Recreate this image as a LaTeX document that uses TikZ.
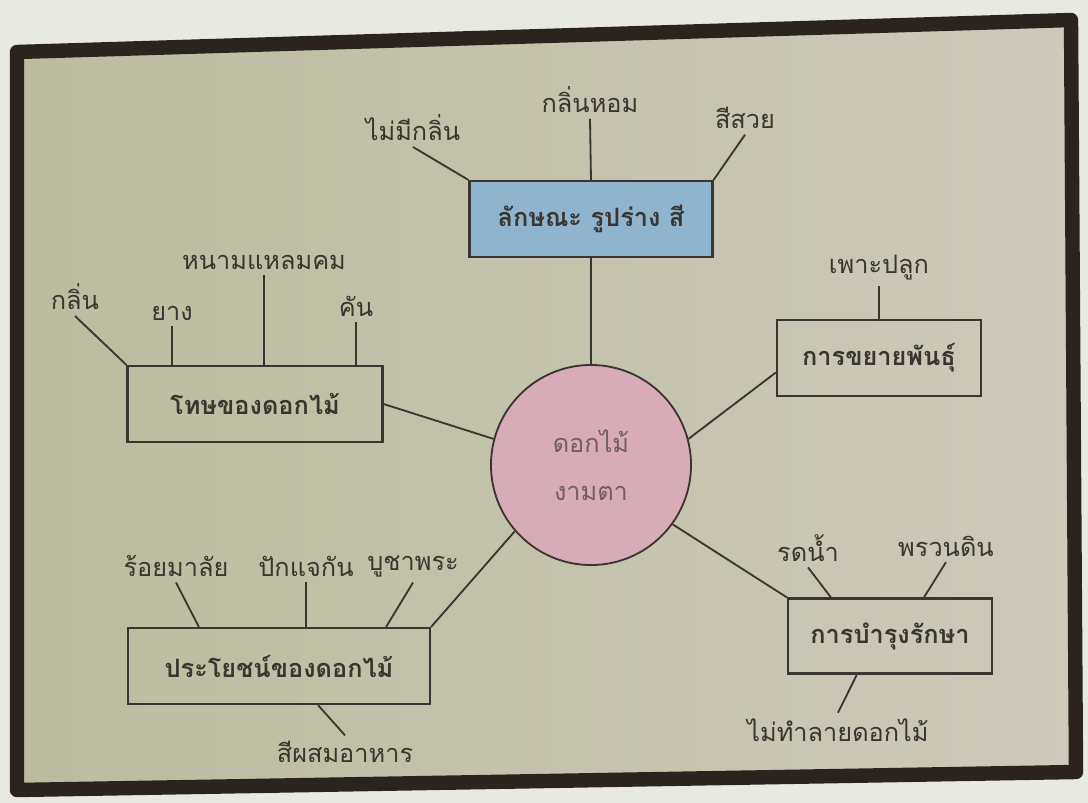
\documentclass[tikz,border=0pt]{standalone}
\usepackage{fontspec}
\newfontfamily\thaifont[Script=Thai]{Loma}
\usepackage{xcolor}
\usetikzlibrary{calc, positioning}

\definecolor{outside}{HTML}{E9E9E4}
\definecolor{frameink}{HTML}{2B231D}
\definecolor{paperL}{HTML}{BBBC9F}
\definecolor{paperR}{HTML}{CDC9BB}
\definecolor{ink}{HTML}{3A3530}
\definecolor{boxblue}{HTML}{8FB4CD}
\definecolor{petal}{HTML}{D8ABB8}

\begin{document}
\begin{tikzpicture}[x=0.025cm, y=-0.025cm,
    box/.style={draw=ink, line width=1.5pt, minimum height=1.9cm, text=ink,
        font=\thaifont\bfseries\fontsize{18}{20}\selectfont},
    leaf/.style={text=ink, inner sep=4pt,
        font=\thaifont\fontsize{18}{20}\selectfont},
    link/.style={draw=ink, line width=1.3pt}]
    % พื้นหลังและกรอบ
    \useasboundingbox (0,0) rectangle (1088,803);
    \fill[outside] (0,0) rectangle (1088,803);
    \shade[left color=paperL, right color=paperR]
        (17,52) -- (1071,20) -- (1076,772) -- (17,790) -- cycle;
    \draw[frameink, line width=0.36cm, line join=round]
        (17,52) -- (1071,20) -- (1076,772) -- (17,790) -- cycle;

    % วงกลมกลาง
    \node[circle, draw=ink, line width=1.3pt, fill=petal, minimum size=5cm,
        align=center, text=ink!65!petal,
        font=\thaifont\fontsize{18}{20}\selectfont] (flower) at (591,465)
        {ดอกไม้\\[14pt]งามตา};

    % กล่องหลัก
    \node[box, fill=boxblue, minimum width=6.075cm] (look) at (591,219) {ลักษณะ รูปร่าง สี};
    \node[box, minimum width=6.375cm] (hazard) at (255,404) {โทษของดอกไม้};
    \node[box, minimum width=5.1cm] (breed) at (879,358) {การขยายพันธุ์};
    \node[box, minimum width=7.55cm] (use) at (279,666) {ประโยชน์ของดอกไม้};
    \node[box, minimum width=5.1cm, minimum height=1.875cm] (care) at (890,636) {การบำรุงรักษา};

    % ข้อความย่อย
    \node[leaf] (noscent) at (413,128) {ไม่มีกลิ่น};
    \node[leaf] (fragrant) at (590,100) {กลิ่นหอม};
    \node[leaf] (pretty) at (745,118) {สีสวย};
    \node[leaf] (smell) at (75,297) {กลิ่น};
    \node[leaf] (sap) at (172,313) {ยาง};
    \node[leaf] (thorn) at (264,262) {หนามแหลมคม};
    \node[leaf] (itch) at (356,306) {คัน};
    \node[leaf] (sow) at (879,268) {เพาะปลูก};
    \node[leaf] (garland) at (176,566) {ร้อยมาลัย};
    \node[leaf] (vase) at (306,566) {ปักแจกัน};
    \node[leaf] (worship) at (413,566) {บูชาพระ};
    \node[leaf] (dye) at (345,752) {สีผสมอาหาร};
    \node[leaf] (water) at (808,548) {รดน้ำ};
    \node[leaf] (hoe) at (946,546) {พรวนดิน};
    \node[leaf] (nodestroy) at (838,730) {ไม่ทำลายดอกไม้};

    % เส้นเชื่อมกับวงกลม
    \draw[link] (look.south) -- (flower.north);
    \draw[link] (hazard.east) -- (flower.165);
    \draw[link] (breed.188) -- (flower.15);
    \draw[link] (use.north east) -- (flower.221);
    \draw[link] (care.north west) -- (flower.-36);

    % เส้นเชื่อมข้อความย่อย
    \draw[link] (look.north west) -- (noscent.south);
    \draw[link] (look.north) -- (fragrant.south);
    \draw[link] (look.north east) -- (pretty.south);
    \draw[link] (hazard.north west) -- (smell.south);
    \draw[link] (sap.south) -- (sap.south |- hazard.north);
    \draw[link] (thorn.south) -- (thorn.south |- hazard.north);
    \draw[link] (itch.south) -- (itch.south |- hazard.north);
    \draw[link] (sow.south) -- (sow.south |- breed.north);
    \draw[link] ($(use.north west)+(72,0)$) -- (garland.south);
    \draw[link] (vase.south) -- (vase.south |- use.north);
    \draw[link] ($(use.north east)+(-45,0)$) -- (worship.south);
    \draw[link] ($(use.south)+(39,0)$) -- (dye.north);
    \draw[link] ($(care.north west)+(44,0)$) -- (water.south);
    \draw[link] ($(care.north west)+(137,0)$) -- (hoe.south);
    \draw[link] ($(care.south west)+(70,0)$) -- (nodestroy.north);
\end{tikzpicture}
\end{document}
